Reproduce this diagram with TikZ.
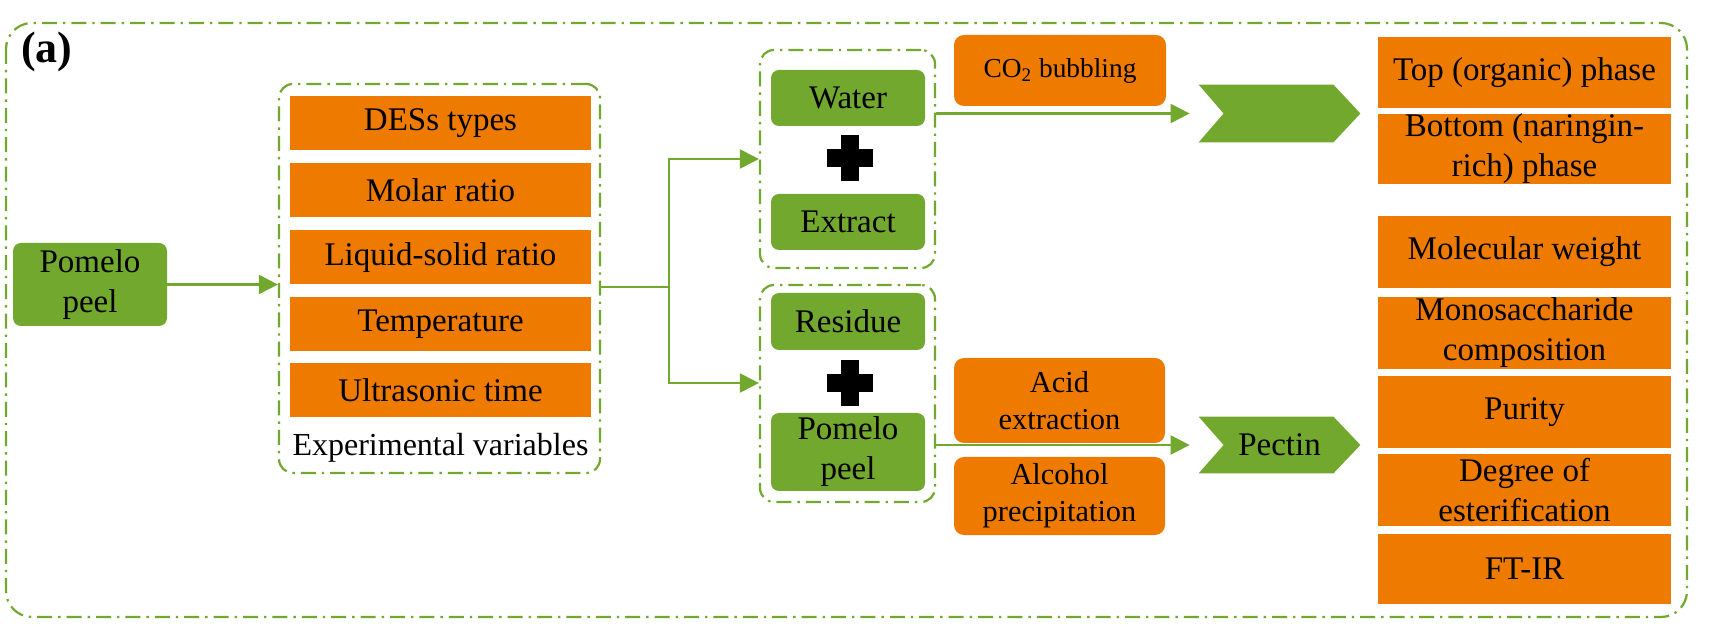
\documentclass[tikz,border=0pt]{standalone}
\usepackage{fontspec}
\setmainfont{Liberation Serif}
\usetikzlibrary{arrows.meta,backgrounds}
\definecolor{gr}{RGB}{114,168,46}
\definecolor{og}{RGB}{238,123,0}
\newcommand{\mainf}{\fontsize{16.5pt}{20pt}\selectfont}
\newcommand{\midf}{\fontsize{15.2pt}{18.5pt}\selectfont}
\newcommand{\smallf}{\fontsize{13.7pt}{16pt}\selectfont}
\tikzset{
 ddash/.style={draw=gr, line width=1.1pt, dash pattern=on 7.5pt off 3pt on 1.2pt off 3pt},
 frame/.style={ddash, rounded corners=7pt, inner sep=0pt},
 gbox/.style={fill=gr, rounded corners=4pt, inner sep=0pt, align=center, font=\mainf},
 obox/.style={fill=og, inner sep=0pt, align=center, font=\mainf},
 rbox/.style={fill=og, rounded corners=5pt, inner sep=0pt, align=center},
 arr/.style={draw=gr, line width=1.1pt, -{Triangle[length=9.5pt,width=9.5pt]}},
 ln/.style={draw=gr, line width=1.1pt},
 sz/.style 2 args={minimum width=#1*0.5pt, minimum height=#2*0.5pt},
 chev/.style={inner sep=0pt, font=\mainf},
}
\begin{document}
\begin{tikzpicture}[x=0.5pt,y=-0.5pt]
\useasboundingbox (0,0) rectangle (1717,640);
% outer frame
\draw[ddash, rounded corners=13pt] (6,23) rectangle (1687,617);
\node[font=\fontsize{22pt}{24pt}\selectfont\bfseries] (lbl) at (47,52) {(a)};

% left
\node[gbox, sz={154}{83}] (pp) at (90,284.5) {Pomelo\\peel};

% experimental variables
\node[frame, sz={321}{389}] (expf) at (439.5,278.5) {};
\node[obox, sz={301}{54}] (v1) at (440.5,123.5) {DESs types};
\node[obox, sz={301}{54}] (v2) at (440.5,190) {Molar ratio};
\node[obox, sz={301}{54}] (v3) at (440.5,257.5) {Liquid-solid ratio};
\node[obox, sz={301}{54}] (v4) at (440.5,324) {Temperature};
\node[obox, sz={301}{54}] (v5) at (440.5,390) {Ultrasonic time};
\node[font=\fontsize{16pt}{18pt}\selectfont, inner sep=0pt] (evt) at (440.5,448) {Experimental variables};

% top group
\node[frame, sz={175}{218}] (tf) at (847.5,159) {};
\node[gbox, sz={154}{56}] (wat) at (848,98) {Water};
\node[gbox, sz={154}{56}] (ext) at (848,222) {Extract};
\coordinate (p1) at (850,158);
\fill ([shift={(-9,-23)}]p1) rectangle ([shift={(9,23)}]p1);
\fill ([shift={(-23,-9)}]p1) rectangle ([shift={(23,9)}]p1);

% bottom group
\node[frame, sz={175}{217}] (bf) at (847.5,393.5) {};
\node[gbox, sz={154}{57}] (res) at (848,321.5) {Residue};
\node[gbox, sz={154}{78}] (pp2) at (848,452) {Pomelo\\peel};
\coordinate (p2) at (850,383);
\fill ([shift={(-9,-23)}]p2) rectangle ([shift={(9,23)}]p2);
\fill ([shift={(-23,-9)}]p2) rectangle ([shift={(23,9)}]p2);

% processes
\node[rbox, sz={212}{71}, font=\smallf] (co2) at (1060,70.5) {CO\textsubscript{2} bubbling};
\node[rbox, sz={211}{85}, font=\midf] (acid) at (1059.5,400.5) {Acid\\extraction};
\node[rbox, sz={211}{78}, font=\midf] (alc) at (1059.5,496) {Alcohol\\precipitation};

% chevrons
\node[chev, sz={161}{57}] (c1) at (1279.5,113.5) {};
\node[chev, sz={161}{56}] (c2) at (1279.5,445) {Pectin};
\begin{scope}[on background layer]
\foreach \c in {c1,c2}{
 \fill[gr] (\c.north west) -- ([xshift=-13.5pt]\c.north east) -- (\c.east)
   -- ([xshift=-13.5pt]\c.south east) -- (\c.south west) -- ([xshift=12.5pt]\c.west) -- cycle;
}
\end{scope}

% right column
\node[obox, sz={293}{71}] (r1) at (1524.5,72.5) {Top (organic) phase};
\node[obox, sz={293}{70}] (r2) at (1524.5,149) {Bottom (naringin-\\rich) phase};
\node[obox, sz={293}{72}] (r3) at (1524.5,252) {Molecular weight};
\node[obox, sz={293}{72}] (r4) at (1524.5,333) {Monosaccharide\\composition};
\node[obox, sz={293}{72}] (r5) at (1524.5,412) {Purity};
\node[obox, sz={293}{72}] (r6) at (1524.5,490) {Degree of\\esterification};
\node[obox, sz={293}{70}] (r7) at (1524.5,569) {FT-IR};

% connectors
\draw[arr] (pp.east) -- (pp.east -| expf.west);
\coordinate (j) at (669,287);
\draw[ln] (expf.east |- j) -- (j);
\draw[arr] (j) |- (tf.west);
\draw[arr] (j) |- (bf.west |- p2);
\draw[arr] (tf.east |- c1) -- ([xshift=-4.5pt]c1.west);
\draw[arr] (bf.east |- c2) -- ([xshift=-4.5pt]c2.west);
\end{tikzpicture}
\end{document}
